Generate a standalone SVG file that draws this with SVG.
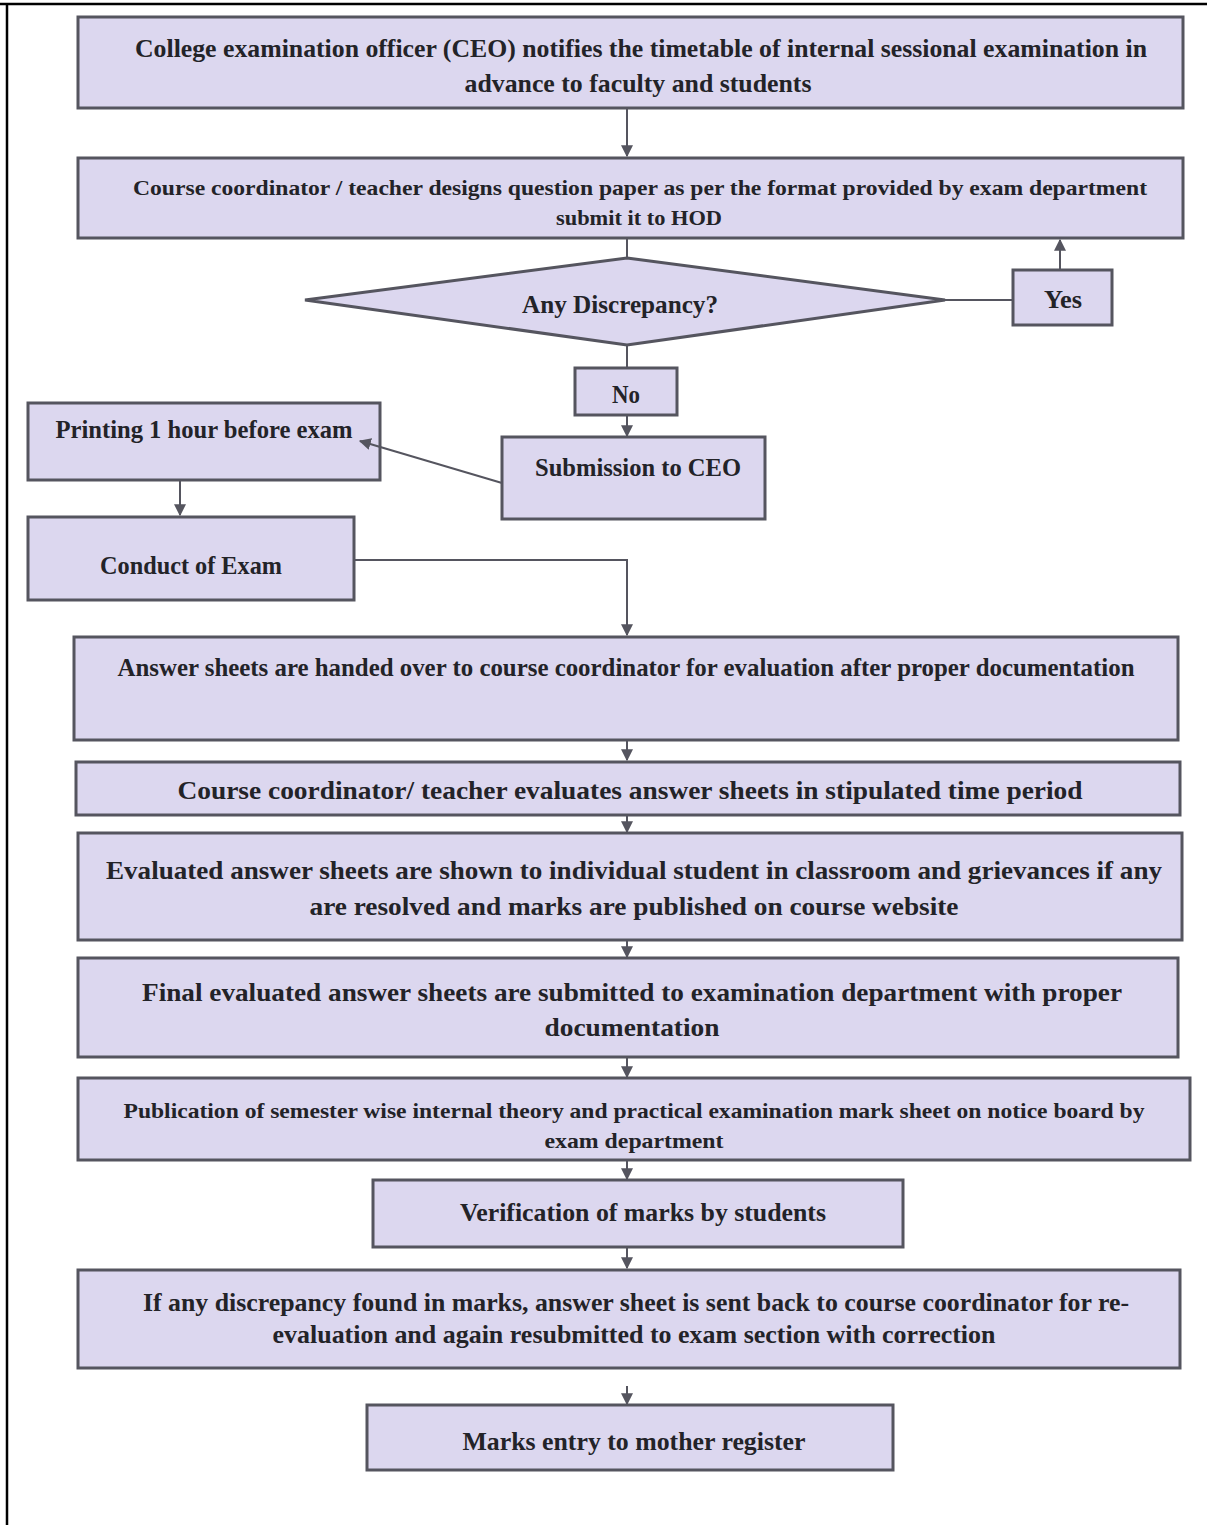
<svg xmlns="http://www.w3.org/2000/svg" width="1207" height="1525" viewBox="0 0 1207 1525">
<style>
.box{fill:#dcd7ef;stroke:#55555f;stroke-width:3}
.t{font-family:"Liberation Serif","DejaVu Serif",serif;font-weight:bold;fill:#232328;text-anchor:middle;font-size:25px}
.s{font-size:22px}
.c{fill:none;stroke:#55555f;stroke-width:2}
</style>
<defs>
<marker id="ah" viewBox="0 0 10 10" refX="9" refY="5" markerWidth="6" markerHeight="6" orient="auto">
<path d="M0,0 L10,5 L0,10 z" fill="#55555f"/>
</marker>
</defs>
<rect width="1207" height="1525" fill="#ffffff"/>
<g id="frame">
<line x1="0" y1="4" x2="1207" y2="4" stroke="#000" stroke-width="2.5"/>
<line x1="7" y1="3" x2="7" y2="1525" stroke="#000" stroke-width="2.5"/>
</g>
<g id="n1"><rect class="box" x="78" y="17" width="1105" height="91"/>
<text class="t" x="641" y="57" textLength="1012" lengthAdjust="spacingAndGlyphs">College examination officer (CEO) notifies the timetable of internal sessional examination in</text>
<text class="t" x="638" y="92" textLength="347" lengthAdjust="spacingAndGlyphs">advance to faculty and students</text></g>
<g id="n2"><rect class="box" x="78" y="158" width="1105" height="80"/>
<text class="t s" x="640" y="195" textLength="1014" lengthAdjust="spacingAndGlyphs">Course coordinator / teacher designs question paper as per the format provided by exam department</text>
<text class="t s" x="639" y="225" textLength="166" lengthAdjust="spacingAndGlyphs">submit it to HOD</text></g>
<g id="n3"><polygon class="box" points="627,258 945,300 627,345 305,300"/>
<text class="t" x="620" y="313" textLength="196" lengthAdjust="spacingAndGlyphs">Any Discrepancy?</text></g>
<g id="n4"><rect class="box" x="1013" y="270" width="99" height="55"/>
<text class="t" x="1063" y="308" textLength="38" lengthAdjust="spacingAndGlyphs">Yes</text></g>
<g id="n5"><rect class="box" x="575" y="368" width="102" height="47"/>
<text class="t" x="626" y="403" textLength="28" lengthAdjust="spacingAndGlyphs">No</text></g>
<g id="n6"><rect class="box" x="502" y="437" width="263" height="82"/>
<text class="t" x="638" y="476" textLength="206" lengthAdjust="spacingAndGlyphs">Submission to CEO</text></g>
<g id="n7"><rect class="box" x="28" y="403" width="352" height="77"/>
<text class="t" x="204" y="438" textLength="297" lengthAdjust="spacingAndGlyphs">Printing 1 hour before exam</text></g>
<g id="n8"><rect class="box" x="28" y="517" width="326" height="83"/>
<text class="t" x="191" y="574" textLength="182" lengthAdjust="spacingAndGlyphs">Conduct of Exam</text></g>
<g id="n9"><rect class="box" x="74" y="637" width="1104" height="103"/>
<text class="t" x="626" y="676" textLength="1017" lengthAdjust="spacingAndGlyphs">Answer sheets are handed over to course coordinator for evaluation after proper documentation</text></g>
<g id="n10"><rect class="box" x="76" y="762" width="1104" height="53"/>
<text class="t" x="630" y="799" textLength="905" lengthAdjust="spacingAndGlyphs">Course coordinator/ teacher evaluates answer sheets in stipulated time period</text></g>
<g id="n11"><rect class="box" x="78" y="833" width="1104" height="107"/>
<text class="t" x="634" y="879" textLength="1056" lengthAdjust="spacingAndGlyphs">Evaluated answer sheets are shown to individual student in classroom and grievances if any</text>
<text class="t" x="634" y="915" textLength="649" lengthAdjust="spacingAndGlyphs">are resolved and marks are published on course website</text></g>
<g id="n12"><rect class="box" x="78" y="958" width="1100" height="99"/>
<text class="t" x="632" y="1001" textLength="980" lengthAdjust="spacingAndGlyphs">Final evaluated answer sheets are submitted to examination department with proper</text>
<text class="t" x="632" y="1036" textLength="175" lengthAdjust="spacingAndGlyphs">documentation</text></g>
<g id="n13"><rect class="box" x="78" y="1078" width="1112" height="82"/>
<text class="t s" x="634" y="1118" textLength="1021" lengthAdjust="spacingAndGlyphs">Publication of semester wise internal theory and practical examination mark sheet on notice board by</text>
<text class="t s" x="634" y="1148" textLength="179" lengthAdjust="spacingAndGlyphs">exam department</text></g>
<g id="n14"><rect class="box" x="373" y="1180" width="530" height="67"/>
<text class="t" x="643" y="1221" textLength="366" lengthAdjust="spacingAndGlyphs">Verification of marks by students</text></g>
<g id="n15"><rect class="box" x="78" y="1270" width="1102" height="98"/>
<text class="t" x="636" y="1311" textLength="986" lengthAdjust="spacingAndGlyphs">If any discrepancy found in marks, answer sheet is sent back to course coordinator for re-</text>
<text class="t" x="634" y="1343" textLength="723" lengthAdjust="spacingAndGlyphs">evaluation and again resubmitted to exam section with correction</text></g>
<g id="n16"><rect class="box" x="367" y="1405" width="526" height="65"/>
<text class="t" x="634" y="1450" textLength="343" lengthAdjust="spacingAndGlyphs">Marks entry to mother register</text></g>
<g id="connectors">
<line class="c" x1="627" y1="109" x2="627" y2="156" marker-end="url(#ah)"/>
<line class="c" x1="627" y1="239" x2="627" y2="258"/>
<line class="c" x1="945" y1="300" x2="1013" y2="300"/>
<line class="c" x1="1060" y1="270" x2="1060" y2="240" marker-end="url(#ah)"/>
<line class="c" x1="627" y1="345" x2="627" y2="368"/>
<line class="c" x1="627" y1="415" x2="627" y2="436" marker-end="url(#ah)"/>
<line class="c" x1="502" y1="483" x2="360" y2="441" marker-end="url(#ah)"/>
<line class="c" x1="180" y1="481" x2="180" y2="515" marker-end="url(#ah)"/>
<polyline class="c" points="355,560 627,560 627,635" marker-end="url(#ah)"/>
<line class="c" x1="627" y1="741" x2="627" y2="760" marker-end="url(#ah)"/>
<line class="c" x1="627" y1="816" x2="627" y2="832" marker-end="url(#ah)"/>
<line class="c" x1="627" y1="941" x2="627" y2="957" marker-end="url(#ah)"/>
<line class="c" x1="627" y1="1058" x2="627" y2="1077" marker-end="url(#ah)"/>
<line class="c" x1="627" y1="1161" x2="627" y2="1179" marker-end="url(#ah)"/>
<line class="c" x1="627" y1="1248" x2="627" y2="1268" marker-end="url(#ah)"/>
<line class="c" x1="627" y1="1386" x2="627" y2="1404" marker-end="url(#ah)"/>
</g>
</svg>
